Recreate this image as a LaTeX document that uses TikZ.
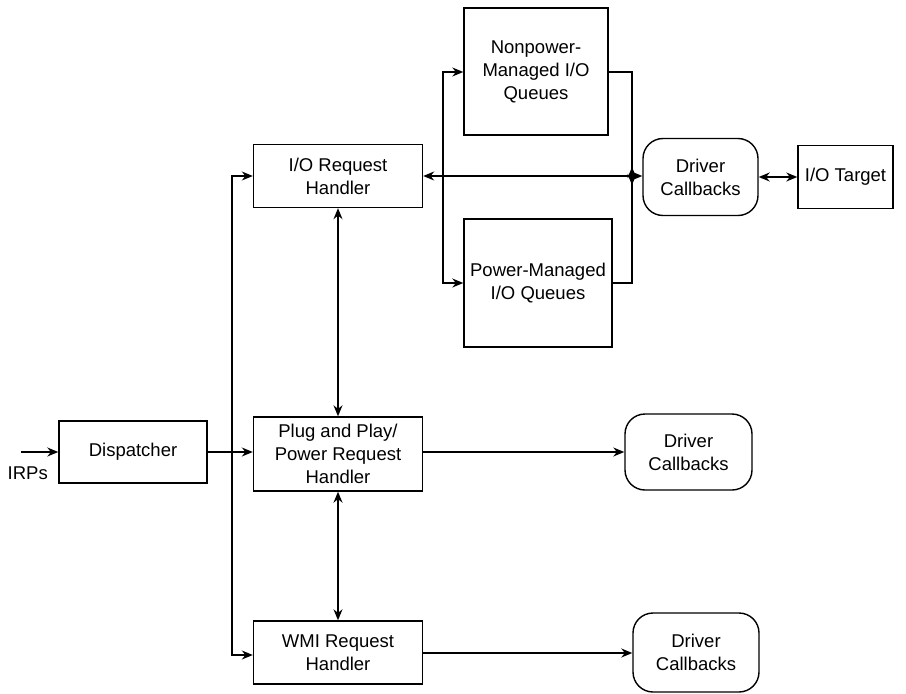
\documentclass[tikz,border=0pt]{standalone}
\usepackage{fontspec}
\setmainfont{Liberation Sans}
\usetikzlibrary{arrows.meta}
\begin{document}
\begin{tikzpicture}[x=1pt,y=-1pt,
  font=\fontsize{18.5pt}{23pt}\selectfont,
  every path/.style={line width=1.4pt},
  blk/.style={draw, rectangle, align=center, inner sep=0pt},
  cbk/.style={draw, rectangle, rounded corners=20pt, align=center, inner sep=0pt},
  arr/.style={-{Stealth[length=11pt,width=9pt]}},
  darr/.style={{Stealth[length=11pt,width=9pt]}-{Stealth[length=11pt,width=9pt]}}]
\useasboundingbox (0,0) rectangle (906,694);

% blocks
\node[blk, minimum width=148pt, minimum height=62pt] (disp) at (133,452) {Dispatcher};
\node[blk, minimum width=169pt, minimum height=63pt] (ioh) at (338,176) {I/O Request\\Handler};
\node[blk, minimum width=169pt, minimum height=74pt] (pnp) at (338,454) {Plug and Play/\\Power Request\\Handler};
\node[blk, minimum width=169pt, minimum height=63pt] (wmi) at (338,652.5) {WMI Request\\Handler};
\node[blk, minimum width=144pt, minimum height=127pt] (npq) at (536,71.5) {Nonpower-\\Managed I/O\\Queues};
\node[blk, minimum width=148pt, minimum height=128pt] (pq) at (538,283) {Power-Managed\\I/O Queues};
\node[cbk, minimum width=115pt, minimum height=77pt] (cbtop) at (700.5,177) {Driver\\Callbacks};
\node[blk, minimum width=95pt, minimum height=63pt] (iot) at (845.5,177) {I/O Target};
\node[cbk, minimum width=127pt, minimum height=76pt] (cbmid) at (688.5,452) {Driver\\Callbacks};
\node[cbk, minimum width=126pt, minimum height=79pt] (cbbot) at (696,652.5) {Driver\\Callbacks};

% incoming IRPs
\coordinate (irp) at (21,452);
\node[anchor=west, inner sep=0pt] (irplbl) at (7,473) {IRPs};
\draw[arr] (irp) -- (disp.west);

% dispatcher fan-out
\coordinate (trunk) at (232,452);
\draw[arr] (disp.east) -- (pnp.west |- disp.east);
\draw[arr] (trunk) |- (ioh.west);
\draw[arr] (trunk) |- (wmi.west |- 0,655);

% handler links
\draw[darr] (ioh.south) -- (pnp.north);
\draw[darr] (pnp.south) -- (wmi.north);

% I/O path through the queues
\coordinate (split) at (443,176);
\coordinate (join) at (632,176);
\draw[darr] (ioh.east) -- (cbtop.west |- ioh.east);
\draw[arr] (split) |- (npq.west |- 0,72);
\draw[arr] (split) |- (pq.west);
\draw[arr] (npq.east |- 0,72) -| ([yshift=-9pt]join);
\draw[arr] (pq.east) -| ([yshift=9pt]join);
\draw[darr] (cbtop.east) -- (iot.west |- cbtop.east);

% callbacks for PnP and WMI
\draw[arr] (pnp.east |- 0,452) -- (cbmid.west);
\draw[arr] (wmi.east |- 0,653) -- (cbbot.west |- 0,653);
\end{tikzpicture}
\end{document}
